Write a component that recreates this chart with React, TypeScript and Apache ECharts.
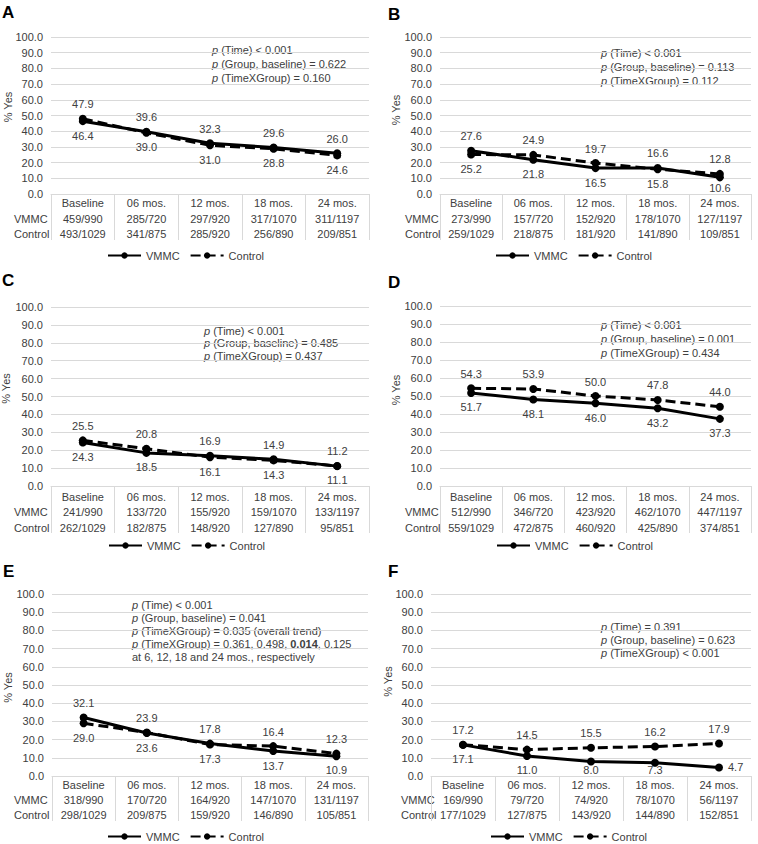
import React, { useEffect, useRef } from "react";
import * as echarts from "echarts";

const categories = ["Baseline", "06 mos.", "12 mos.", "18 mos.", "24 mos."];
const rowHeaders = ["VMMC", "Control"];
const legendNames = ["VMMC", "Control"];

// Panel A
const vmmcA = [46.4, 39.6, 32.3, 29.6, 26.0];
const controlA = [47.9, 39.0, 31.0, 28.8, 24.6];
const vmmcNA = ["459/990", "285/720", "297/920", "317/1070", "311/1197"];
const controlNA = ["493/1029", "341/875", "285/920", "256/890", "209/851"];
const notesA = ["{i|p} (Time) < 0.001", "{i|p} (Group, baseline) = 0.622", "{i|p} (TimeXGroup) = 0.160"];

// Panel B
const vmmcB = [27.6, 21.8, 16.5, 16.6, 10.6];
const controlB = [25.2, 24.9, 19.7, 15.8, 12.8];
const vmmcNB = ["273/990", "157/720", "152/920", "178/1070", "127/1197"];
const controlNB = ["259/1029", "218/875", "181/920", "141/890", "109/851"];
const notesB = ["{i|p} (Time) < 0.001", "{i|p} (Group, baseline) = 0.113", "{i|p} (TimeXGroup) = 0.112"];

// Panel C
const vmmcC = [24.3, 18.5, 16.9, 14.9, 11.1];
const controlC = [25.5, 20.8, 16.1, 14.3, 11.2];
const vmmcNC = ["241/990", "133/720", "155/920", "159/1070", "133/1197"];
const controlNC = ["262/1029", "182/875", "148/920", "127/890", "95/851"];
const notesC = ["{i|p} (Time) < 0.001", "{i|p} (Group, baseline) = 0.485", "{i|p} (TimeXGroup) = 0.437"];

// Panel D
const vmmcD = [51.7, 48.1, 46.0, 43.2, 37.3];
const controlD = [54.3, 53.9, 50.0, 47.8, 44.0];
const vmmcND = ["512/990", "346/720", "423/920", "462/1070", "447/1197"];
const controlND = ["559/1029", "472/875", "460/920", "425/890", "374/851"];
const notesD = ["{i|p} (Time) < 0.001", "{i|p} (Group, baseline) = 0.001", "{i|p} (TimeXGroup) = 0.434"];

// Panel E
const vmmcE = [32.1, 23.6, 17.8, 13.7, 10.9];
const controlE = [29.0, 23.9, 17.3, 16.4, 12.3];
const vmmcNE = ["318/990", "170/720", "164/920", "147/1070", "131/1197"];
const controlNE = ["298/1029", "209/875", "159/920", "146/890", "105/851"];
const notesE = [
  "{i|p} (Time) < 0.001",
  "{i|p} (Group, baseline) = 0.041",
  "{i|p} (TimeXGroup) = 0.035 (overall trend)",
  "{i|p} (TimeXGroup) = 0.361, 0.498, {b|0.014}, 0.125",
  "at 6, 12, 18 and 24 mos., respectively",
];

// Panel F
const vmmcF = [17.1, 11.0, 8.0, 7.3, 4.7];
const controlF = [17.2, 14.5, 15.5, 16.2, 17.9];
const vmmcNF = ["169/990", "79/720", "74/920", "78/1070", "56/1197"];
const controlNF = ["177/1029", "127/875", "143/920", "144/890", "152/851"];
const notesF = ["{i|p} (Time) = 0.391", "{i|p} (Group, baseline) = 0.623", "{i|p} (TimeXGroup) < 0.001"];

const panels = [
  { letter: "A", vmmc: vmmcA, control: controlA, vmmcN: vmmcNA, controlN: controlNA, notes: notesA },
  { letter: "B", vmmc: vmmcB, control: controlB, vmmcN: vmmcNB, controlN: controlNB, notes: notesB },
  { letter: "C", vmmc: vmmcC, control: controlC, vmmcN: vmmcNC, controlN: controlNC, notes: notesC },
  { letter: "D", vmmc: vmmcD, control: controlD, vmmcN: vmmcND, controlN: controlND, notes: notesD },
  { letter: "E", vmmc: vmmcE, control: controlE, vmmcN: vmmcNE, controlN: controlNE, notes: notesE },
  { letter: "F", vmmc: vmmcF, control: controlF, vmmcN: vmmcNF, controlN: controlNF, notes: notesF },
];

// Layout (positions and sizes only)
const layouts = [
  { left: 51, top: 37, width: 318, height: 157, tickLen: 46, margin: 1.5, rowH: 15.5, letterX: 2, letterY: 12.5, yNameX: 7.5, yNameY: 107, rowX: 14, noteX: 212, noteY: 50, noteLH: 14.2, legendLeft: 107, legendMid: 257, rightLabel: [] as number[][] },
  { left: 440, top: 37, width: 311, height: 157, tickLen: 46, margin: 1.5, rowH: 15.5, letterX: 388, letterY: 14, yNameX: 396, yNameY: 110, rowX: 405, noteX: 601, noteY: 52.7, noteLH: 14.2, legendLeft: 495, legendMid: 257, rightLabel: [] as number[][] },
  { left: 51, top: 307, width: 318, height: 179, tickLen: 47, margin: 3.5, rowH: 15.3, letterX: 2, letterY: 280, yNameX: 5.5, yNameY: 388.5, rowX: 14, noteX: 204, noteY: 330.7, noteLH: 12.7, legendLeft: 108, legendMid: 547, rightLabel: [] as number[][] },
  { left: 440, top: 306, width: 311, height: 180, tickLen: 47, margin: 3.5, rowH: 15.3, letterX: 388, letterY: 282, yNameX: 396, yNameY: 390, rowX: 405, noteX: 601, noteY: 325, noteLH: 13.9, legendLeft: 496, legendMid: 547, rightLabel: [] as number[][] },
  { left: 52, top: 594, width: 316, height: 182, tickLen: 45, margin: 1.5, rowH: 15, letterX: 3, letterY: 571, yNameX: 7.5, yNameY: 687.5, rowX: 14, noteX: 132, noteY: 605, noteLH: 12.9, legendLeft: 107, legendMid: 838, rightLabel: [] as number[][] },
  { left: 431, top: 594, width: 320, height: 182, tickLen: 45, margin: 1.5, rowH: 15, letterX: 388, letterY: 571, yNameX: 388, yNameY: 681.5, rowX: 401, noteX: 601, noteY: 626.7, noteLH: 13, legendLeft: 490, legendMid: 838, rightLabel: [[0, 4]] },
];

const FONT = "'Liberation Sans', Arial, Helvetica, sans-serif";
const TXT = "#404040";
const GRIDC = "#d9d9d9";

function buildOption() {
  const grid: any[] = [];
  const xAxis: any[] = [];
  const yAxis: any[] = [];
  const series: any[] = [];
  const legend: any[] = [];
  const graphic: any[] = [];
  const rich = {
    i: { fontStyle: "italic", fontSize: 11, fill: TXT, color: TXT, fontFamily: FONT },
    b: { fontWeight: "bold", fontSize: 11, fill: TXT, color: TXT, fontFamily: FONT },
  };

  panels.forEach((p, k) => {
    const L = layouts[k];
    const gBottom = L.top + L.height;
    grid.push({ left: L.left, top: L.top, width: L.width, height: L.height, containLabel: false });
    xAxis.push({
      type: "category",
      gridIndex: k,
      data: categories,
      boundaryGap: true,
      axisLine: { show: true, lineStyle: { color: GRIDC, width: 1 } },
      axisTick: { show: true, length: L.tickLen, alignWithLabel: false, lineStyle: { color: GRIDC, width: 1 } },
      axisLabel: {
        interval: 0,
        margin: L.margin,
        color: TXT,
        fontSize: 11,
        fontFamily: FONT,
        lineHeight: L.rowH,
        formatter: (val: string, idx: number) => `${val}\n${p.vmmcN[idx]}\n${p.controlN[idx]}`,
      },
      splitLine: { show: false },
    });
    yAxis.push({
      type: "value",
      gridIndex: k,
      min: 0,
      max: 100,
      interval: 10,
      axisLine: { show: false },
      axisTick: { show: false },
      axisLabel: { formatter: (v: number) => v.toFixed(1), color: TXT, fontSize: 11, fontFamily: FONT, margin: 8 },
      splitLine: { show: true, lineStyle: { color: GRIDC, width: 1 } },
    });

    const mk = (si: number, name: string, vals: number[], other: number[], dashed: boolean) => ({
      name,
      type: "line",
      xAxisIndex: k,
      yAxisIndex: k,
      data: vals.map((v, i) => {
        const right = L.rightLabel.some((r) => r[0] === si && r[1] === i);
        return { value: v, label: { position: right ? "right" : v >= other[i] ? "top" : "bottom" } };
      }),
      symbol: "circle",
      symbolSize: 8,
      lineStyle: { color: "#000", width: 3, type: dashed ? [10, 5] : "solid" },
      itemStyle: { color: "#000" },
      label: {
        show: true,
        formatter: (pp: any) => Number(pp.value).toFixed(1),
        color: TXT,
        fontSize: 11,
        fontFamily: FONT,
        distance: 5,
      },
      labelLayout: (params: any) => {
        const r = params.labelRect;
        const limit = gBottom - 1;
        if (r && r.y + r.height > limit) return { dy: limit - (r.y + r.height) };
        return {};
      },
      emphasis: { disabled: true },
    });
    series.push(mk(0, "VMMC", p.vmmc, p.control, false));
    series.push(mk(1, "Control", p.control, p.vmmc, true));

    legend.push({
      left: L.legendLeft,
      top: L.legendMid - 7,
      padding: 0,
      data: legendNames,
      itemWidth: 33,
      itemHeight: 8,
      itemGap: 10,
      selectedMode: false,
      textStyle: { color: TXT, fontSize: 11, fontFamily: FONT },
    });

    graphic.push({
      type: "text",
      x: L.letterX,
      y: L.letterY,
      style: { text: p.letter, fontSize: 17, fontWeight: "bold", fontFamily: FONT, fill: "#000", verticalAlign: "middle", textVerticalAlign: "middle" },
    });
    graphic.push({
      type: "text",
      x: L.yNameX,
      y: L.yNameY,
      rotation: Math.PI / 2,
      style: { text: "% Yes", fontSize: 11, fontFamily: FONT, fill: TXT, align: "center", textAlign: "center", verticalAlign: "middle", textVerticalAlign: "middle" },
    });
    rowHeaders.forEach((h, j) => {
      graphic.push({
        type: "text",
        x: L.rowX,
        y: gBottom + L.margin + L.rowH * (j + 1.5),
        style: { text: h, fontSize: 11, fontFamily: FONT, fill: TXT, verticalAlign: "middle", textVerticalAlign: "middle" },
      });
    });
    p.notes.forEach((n, j) => {
      graphic.push({
        type: "text",
        x: L.noteX,
        y: L.noteY + j * L.noteLH,
        style: { text: n, rich, fontSize: 11, fontFamily: FONT, fill: TXT, verticalAlign: "middle", textVerticalAlign: "middle" },
      });
    });
  });

  return {
    animation: false,
    backgroundColor: "#ffffff",
    textStyle: { fontFamily: FONT },
    grid,
    xAxis,
    yAxis,
    series,
    legend,
    graphic,
  };
}

export default function App() {
  const ref = useRef<HTMLDivElement>(null);
  useEffect(() => {
    if (!ref.current) return;
    const chart = echarts.init(ref.current, undefined, { renderer: "svg" });
    chart.setOption(buildOption() as any);
    return () => chart.dispose();
  }, []);
  return (
    <div
      ref={ref}
      style={{ position: "absolute", left: 0, top: 0, width: 758, height: 844, background: "#fff" }}
    />
  );
}
